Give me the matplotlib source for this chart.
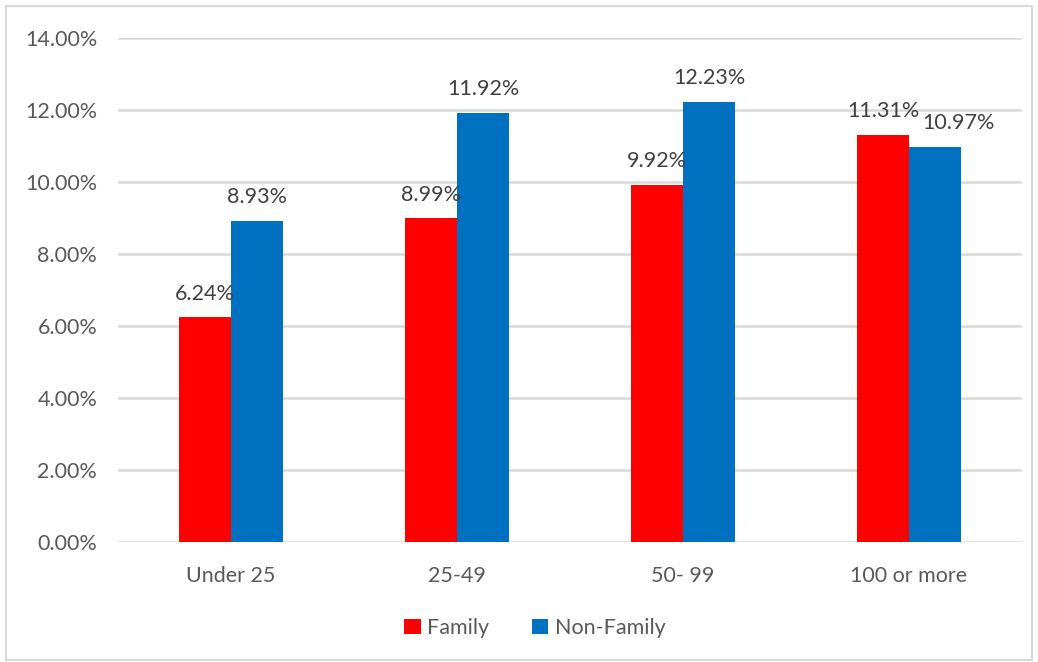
import matplotlib
matplotlib.use('Agg')
import matplotlib.pyplot as plt
from matplotlib.patches import Rectangle
import numpy as np

categories = ['Under 25', '25-49', '50- 99', '100 or more']
family = [6.24, 8.99, 9.92, 11.31]
non_family = [8.93, 11.92, 12.23, 10.97]
yticks = [0, 2, 4, 6, 8, 10, 12, 14]

C_FAM = '#FF0000'
C_NON = '#0070C0'
C_TXT = '#595959'
C_GRID = '#D9D9D9'

plt.rcParams['font.family'] = ['Lato', 'DejaVu Sans']

fig = plt.figure(figsize=(10.38, 6.62), dpi=100)
ax = fig.add_axes([0.1137, 0.1813, 0.8709, 0.7613])

x = np.arange(len(categories))
w = 0.23
b1 = ax.bar(x - w / 2, family, w, color=C_FAM, label='Family', zorder=3)
b2 = ax.bar(x + w / 2, non_family, w, color=C_NON, label='Non-Family', zorder=3)

for bars, vals in [(b1, family), (b2, non_family)]:
    for i, (b, v) in enumerate(zip(bars, vals)):
        # last blue label is pushed right so it clears its red neighbour
        dx = 17 if (bars is b2 and i == len(vals) - 1) else 0
        ax.annotate(f'{v:.2f}%', (b.get_x() + b.get_width() / 2, v),
                    xytext=(dx, 17), textcoords='offset points',
                    ha='center', va='center', fontsize=15.5, color='#404040', zorder=4)

ax.set_xlim(-0.5, len(categories) - 0.5)
ax.set_ylim(0, 14)
ax.set_yticks(yticks)
ax.set_yticklabels([f'{t:.2f}%' for t in yticks])
ax.set_xticks(x)
ax.set_xticklabels(categories)
ax.tick_params(axis='both', length=0, labelsize=15.5, labelcolor=C_TXT)
ax.tick_params(axis='y', pad=15)
ax.tick_params(axis='x', pad=17)
ax.grid(axis='y', color=C_GRID, lw=1.8, zorder=0)
for s in ax.spines.values():
    s.set_visible(False)

fig.legend(handles=[b1, b2], loc='center', bbox_to_anchor=(535 / 1038, 1 - 628 / 662),
           ncol=2, frameon=False, fontsize=15.5, labelcolor=C_TXT,
           handlelength=0.75, handleheight=0.75, handletextpad=0.3, columnspacing=2.0)

# outer frame
fig.patches.append(Rectangle((6 / 1038, 2 / 662), 1026 / 1038, 654 / 662,
                             transform=fig.transFigure, fill=False,
                             edgecolor=C_GRID, lw=1.5))

fig.savefig('out.png', dpi=100, facecolor='white')
